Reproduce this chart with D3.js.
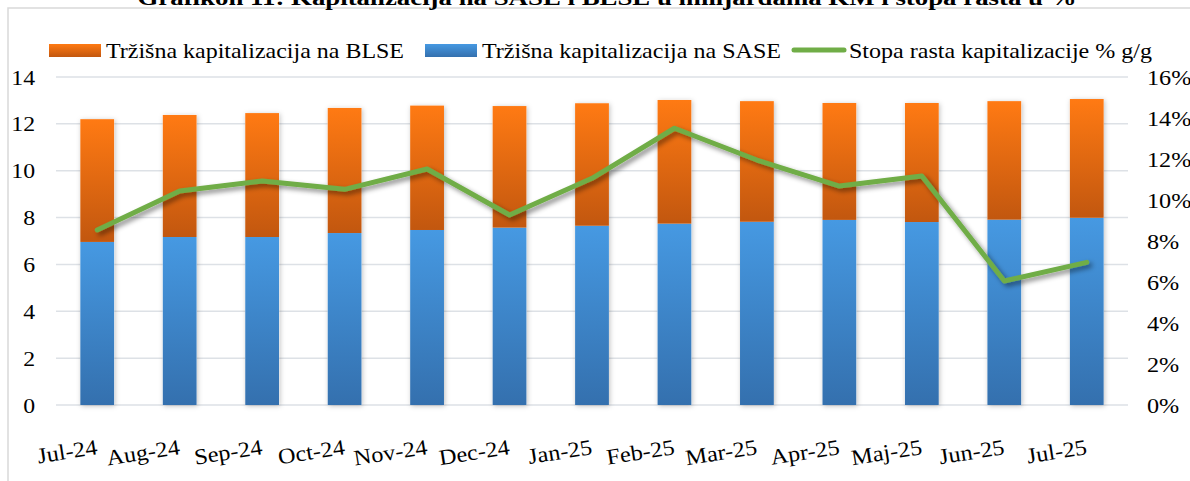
<!DOCTYPE html>
<html>
<head>
<meta charset="utf-8">
<script src="https://cdn.jsdelivr.net/npm/d3@7"></script>
<style>
  body { margin: 0; background: #fff; }
  text { font-family: 'Liberation Serif', 'Times New Roman', serif; fill: #000; }
</style>
</head>
<body>
<div id="container"></div>
<script>
const months = ['Jul-24', 'Aug-24', 'Sep-24', 'Oct-24', 'Nov-24', 'Dec-24', 'Jan-25', 'Feb-25', 'Mar-25', 'Apr-25', 'Maj-25', 'Jun-25', 'Jul-25'];
const sase = [6.96, 7.17, 7.17, 7.34, 7.47, 7.57, 7.65, 7.74, 7.82, 7.9, 7.81, 7.91, 7.99];
const blse = [5.24, 5.21, 5.29, 5.34, 5.31, 5.19, 5.23, 5.28, 5.15, 4.99, 5.08, 5.06, 5.07];
const growth = [8.54, 10.44, 10.93, 10.52, 11.51, 9.27, 11.06, 13.5, 11.95, 10.68, 11.17, 6.05, 6.96];
const leftTicks = [0, 2, 4, 6, 8, 10, 12, 14];
const rightTicks = [0, 2, 4, 6, 8, 10, 12, 14, 16];
const legendLabels = ['Tržišna kapitalizacija na BLSE', 'Tržišna kapitalizacija na SASE', 'Stopa rasta kapitalizacije % g/g'];
const title = 'Grafikon 11: Kapitalizacija na SASE i BLSE u milijardama KM i stopa rasta u %';

const svgWidth = 1190,
  svgHeight = 481,
  plotLeft = 56,
  plotRight = 1128,
  plotTop = 77,
  plotBottom = 405,
  serif = "'Liberation Serif', 'Times New Roman', serif";

const svg = d3
  .select('#container')
  .append('svg')
  .attr('width', svgWidth)
  .attr('height', svgHeight)
  .style('font-family', serif);

const defs = svg.append('defs');

const grad = (id, c1, c2) => {
  const g = defs
    .append('linearGradient')
    .attr('id', id)
    .attr('x1', 0).attr('y1', 0).attr('x2', 0).attr('y2', 1);
  g.append('stop').attr('offset', '0%').attr('stop-color', c1);
  g.append('stop').attr('offset', '100%').attr('stop-color', c2);
};
grad('gOrange', '#ff7a13', '#c2570f');
grad('gBlue', '#4699e2', '#3470ae');

defs
  .append('filter')
  .attr('id', 'barShadow')
  .attr('x', '-40%').attr('y', '-10%').attr('width', '180%').attr('height', '120%')
  .append('feDropShadow')
  .attr('dx', 1).attr('dy', 1).attr('stdDeviation', 2.5)
  .attr('flood-color', '#000').attr('flood-opacity', 0.25);

defs
  .append('filter')
  .attr('id', 'lineShadow')
  .attr('x', '-10%').attr('y', '-30%').attr('width', '120%').attr('height', '160%')
  .append('feDropShadow')
  .attr('dx', 3).attr('dy', 3).attr('stdDeviation', 2.5)
  .attr('flood-color', '#000').attr('flood-opacity', 0.45);

// frame and title
svg
  .append('rect')
  .attr('x', 8)
  .attr('y', 8)
  .attr('width', 1200)
  .attr('height', 500)
  .attr('fill', 'none')
  .attr('stroke', '#d9d9d9')
  .attr('stroke-width', 1.5);

svg
  .append('text')
  .attr('x', 607)
  .attr('y', 5)
  .attr('text-anchor', 'middle')
  .attr('textLength', 939)
  .attr('lengthAdjust', 'spacingAndGlyphs')
  .style('font-size', '22px')
  .style('font-weight', 'bold')
  .text(title);

const xScale = d3
  .scaleBand()
  .domain(months)
  .range([plotLeft, plotRight])
  .paddingInner(0.59)
  .paddingOuter(0.295);

const yScale = d3.scaleLinear().domain([0, 14]).range([plotBottom, plotTop]);
const yPct = d3.scaleLinear().domain([0, 16]).range([plotBottom, plotTop]);

// gridlines
svg
  .append('g')
  .selectAll('line')
  .data(leftTicks)
  .enter()
  .append('line')
  .attr('x1', plotLeft)
  .attr('x2', plotRight)
  .attr('y1', (d) => yScale(d))
  .attr('y2', (d) => yScale(d))
  .attr('stroke', '#dde1e6')
  .attr('stroke-width', 1.5);

// axes
const yAxis = d3.axisLeft(yScale).tickValues(leftTicks).tickSize(0).tickPadding(0);
svg
  .append('g')
  .attr('transform', 'translate(35,0)')
  .call(yAxis)
  .attr('font-family', serif)
  .call((g) => g.select('.domain').remove())
  .selectAll('text')
  .attr('transform', 'scale(1.08,1)')
  .style('font-size', '22px')
  .style('font-family', serif);

const yAxisRight = d3
  .axisRight(yPct)
  .tickValues(rightTicks)
  .tickSize(0)
  .tickPadding(0)
  .tickFormat((d) => d + '%');
svg
  .append('g')
  .attr('transform', 'translate(1147,0)')
  .call(yAxisRight)
  .attr('font-family', serif)
  .call((g) => g.select('.domain').remove())
  .selectAll('text')
  .attr('transform', 'scale(1.1,1)')
  .style('font-size', '22px')
  .style('font-family', serif);

svg
  .append('g')
  .selectAll('text')
  .data(months)
  .enter()
  .append('text')
  .attr('text-anchor', 'end')
  .attr('transform', (d) => `translate(${xScale(d) + xScale.bandwidth() / 2 + 1},454) rotate(-9) scale(1.1,1)`)
  .style('font-size', '22px')
  .text((d) => d);

// stacked bars
const rows = months.map((m, i) => ({ month: m, sase: sase[i], blse: blse[i] }));
const stack = d3.stack().keys(['sase', 'blse'])(rows);
const fills = { sase: 'url(#gBlue)', blse: 'url(#gOrange)' };

svg
  .append('g')
  .selectAll('rect')
  .data(months)
  .enter()
  .append('rect')
  .attr('x', (d) => xScale(d))
  .attr('width', xScale.bandwidth())
  .attr('y', (d, i) => yScale(sase[i] + blse[i]))
  .attr('height', (d, i) => plotBottom - yScale(sase[i] + blse[i]))
  .attr('fill', '#fff')
  .attr('filter', 'url(#barShadow)');

svg
  .append('g')
  .selectAll('g')
  .data(stack)
  .enter()
  .append('g')
  .attr('fill', (s) => fills[s.key])
  .selectAll('rect')
  .data((s) => s)
  .enter()
  .append('rect')
  .attr('x', (d) => xScale(d.data.month))
  .attr('width', xScale.bandwidth())
  .attr('y', (d) => yScale(d[1]))
  .attr('height', (d) => yScale(d[0]) - yScale(d[1]));

// growth line
const line = d3
  .line()
  .x((d, i) => xScale(months[i]) + xScale.bandwidth() / 2)
  .y((d) => yPct(d));

svg
  .append('path')
  .datum(growth)
  .attr('d', line)
  .attr('fill', 'none')
  .attr('stroke', '#70ad47')
  .attr('stroke-width', 5)
  .attr('stroke-linejoin', 'round')
  .attr('stroke-linecap', 'round')
  .attr('filter', 'url(#lineShadow)');

// legend
const legend = svg.append('g').style('font-size', '22px');
const legendX = [49, 425, 792];
const legendWidths = [298, 299, 303];
legendLabels.forEach((label, i) => {
  const g = legend.append('g').attr('transform', `translate(${legendX[i]},0)`);
  if (i < 2) {
    g.append('rect')
      .attr('x', 0)
      .attr('y', 44)
      .attr('width', 52)
      .attr('height', 13)
      .attr('fill', i === 0 ? 'url(#gOrange)' : 'url(#gBlue)');
  } else {
    g.append('line')
      .attr('x1', 2)
      .attr('x2', 52)
      .attr('y1', 50)
      .attr('y2', 50)
      .attr('stroke', '#70ad47')
      .attr('stroke-width', 5)
      .attr('stroke-linecap', 'round');
  }
  g.append('text')
    .attr('x', 57)
    .attr('y', 58)
    .attr('textLength', legendWidths[i])
    .attr('lengthAdjust', 'spacingAndGlyphs')
    .text(label);
});
</script>
</body>
</html>
